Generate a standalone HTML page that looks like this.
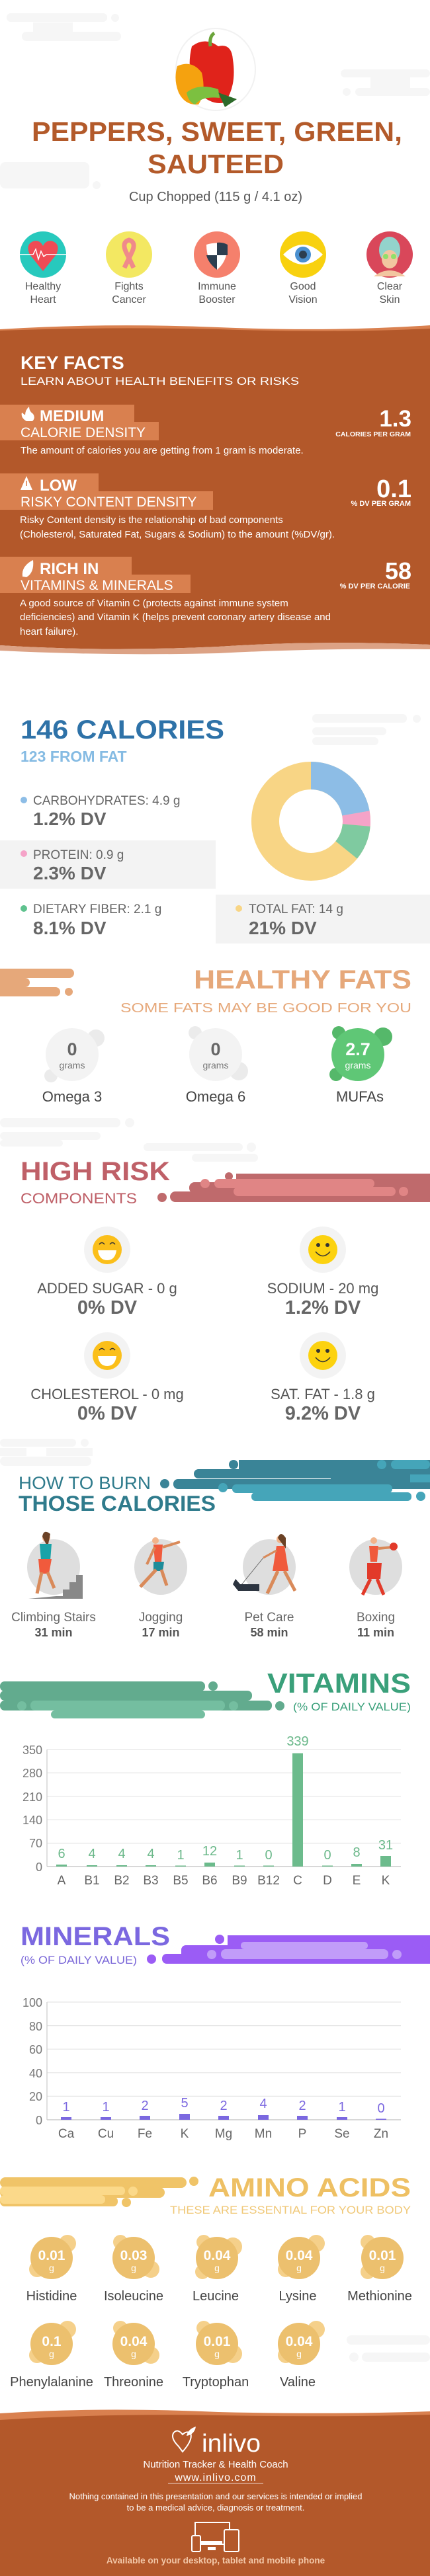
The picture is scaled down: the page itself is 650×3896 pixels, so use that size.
<!DOCTYPE html>
<html><head><meta charset="utf-8"><style>
html,body{margin:0;padding:0;background:#fff;}
svg{display:block;}
text{font-family:"Liberation Sans",sans-serif;}
</style></head><body>
<svg width="650" height="3896" viewBox="0 0 650 3896" xmlns="http://www.w3.org/2000/svg">
<rect width="650" height="3896" fill="#fff"/>
<g fill="#f6f6f6">
<rect x="10" y="20" width="152" height="13" rx="6"/><circle cx="174" cy="27" r="6"/>
<rect x="33" y="48" width="150" height="14" rx="7"/><rect x="50" y="34" width="60" height="16"/>
<rect x="515" y="105" width="135" height="12" rx="6"/><rect x="537" y="133" width="113" height="12" rx="6"/><circle cx="524" cy="139" r="6"/><rect x="560" y="116" width="60" height="18"/>
<rect x="0" y="245" width="135" height="40" rx="8"/><circle cx="146" cy="280" r="6"/>
</g>
<ellipse cx="326" cy="105" rx="60" ry="62" fill="#fff" stroke="#f1f1f1" stroke-width="2"/>
<path d="M290 70 Q310 55 330 70 Q350 65 352 90 Q358 130 340 155 Q320 160 300 140 Q280 110 290 70Z" fill="#e0231b"/>
<path d="M268 100 Q290 90 305 110 Q312 140 300 158 Q280 160 270 140 Q262 120 268 100Z" fill="#f5a20f"/>
<path d="M282 140 Q300 125 330 135 L332 148 Q305 145 295 158 Q285 155 282 140Z" fill="#7cc040"/>
<path d="M330 140 L358 150 L340 162 Z" fill="#2d6a2a"/>
<path d="M318 70 Q316 55 324 50" stroke="#6ba43a" stroke-width="5" fill="none"/>
<text x="328" y="213" font-size="41" font-weight="bold" fill="#b35a2a" text-anchor="middle" textLength="560" lengthAdjust="spacingAndGlyphs">PEPPERS, SWEET, GREEN,</text>
<text x="326" y="262" font-size="41" font-weight="bold" fill="#b35a2a" text-anchor="middle" textLength="206" lengthAdjust="spacingAndGlyphs">SAUTEED</text>
<text x="326" y="304" font-size="20" fill="#555" text-anchor="middle">Cup Chopped (115 g / 4.1 oz)</text>
<circle cx="65" cy="385" r="35" fill="#27c9bd"/><path d="M65 410 L45 385 Q38 370 50 365 Q60 362 65 372 Q70 362 80 365 Q92 370 85 385Z" fill="#ef4b55"/><path d="M30 385 H50 L54 377 L58 392 L62 380 L66 388 L70 385 H100" stroke="#fff" stroke-width="1.5" fill="none"/>
<circle cx="195" cy="385" r="35" fill="#f3e862"/><path d="M188 405 L200 380 Q206 366 195 363 Q184 366 190 380 L202 405" stroke="#f08a8a" stroke-width="7" fill="none"/>
<circle cx="328" cy="385" r="35" fill="#f5806c"/><path d="M312 370 Q328 365 344 370 Q344 395 328 408 Q312 395 312 370Z" fill="#fff"/><path d="M328 367 Q336 366 344 370 L344 386 H328Z M312 386 H328 V408 Q315 398 312 386Z" fill="#2c3e50"/>
<circle cx="458" cy="385" r="35" fill="#f8d10f"/><path d="M428 385 Q458 355 488 385 Q458 415 428 385Z" fill="#fff"/><circle cx="458" cy="385" r="12" fill="#4a90d0"/><circle cx="458" cy="385" r="6" fill="#2c3e50"/>
<circle cx="589" cy="385" r="35" fill="#d9475a"/><ellipse cx="589" cy="378" rx="16" ry="20" fill="#93d3cc"/><ellipse cx="589" cy="392" rx="12" ry="14" fill="#f2c6a0"/><circle cx="583" cy="388" r="4" fill="#8fe06a"/><circle cx="595" cy="388" r="4" fill="#8fe06a"/><path d="M565 418 Q589 400 613 418Z" fill="#f2c6a0"/>
<g font-size="16" fill="#555" text-anchor="middle">
<text x="65" y="438">Healthy</text><text x="65" y="458">Heart</text>
<text x="195" y="438">Fights</text><text x="195" y="458">Cancer</text>
<text x="328" y="438">Immune</text><text x="328" y="458">Booster</text>
<text x="458" y="438">Good</text><text x="458" y="458">Vision</text>
<text x="589" y="438">Clear</text><text x="589" y="458">Skin</text>
</g>
<path d="M0 498 Q160 488 330 495 Q500 502 650 492 V520 H0Z" fill="#d9804f"/>
<path d="M0 500 Q160 494 330 498 Q500 504 650 497 V975 Q480 968 330 978 Q160 986 0 976Z" fill="#b3582a"/>
<path d="M0 976 Q160 986 330 978 Q480 968 650 975 V982 Q480 980 330 988 Q160 992 0 984Z" fill="#dca285"/>
<text x="31" y="558" font-size="28" font-weight="bold" fill="#fff">KEY FACTS</text>
<text x="31" y="582" font-size="17" fill="#fff" textLength="421" lengthAdjust="spacingAndGlyphs">LEARN ABOUT HEALTH BENEFITS OR RISKS</text>
<g fill="#d9804f">
<rect x="0" y="612" width="203" height="27"/><rect x="0" y="638" width="240" height="28"/>
<rect x="0" y="716" width="149" height="28"/><rect x="0" y="743" width="322" height="28"/>
<rect x="0" y="842" width="199" height="28"/><rect x="0" y="869" width="288" height="28"/>
</g>
<path d="M40 637 Q31 632 33 624 Q36 626 38 628 Q38 620 44 615 Q44 622 50 626 Q54 632 49 637Z" fill="#fff"/>
<path d="M40 720 L31 741 H49Z" fill="#fff"/><rect x="39.2" y="727" width="1.6" height="8" fill="#d9804f"/>
<path d="M34 872 Q32 856 50 847 Q52 866 40 873Z" fill="#fff"/>
<g fill="#fff">
<text x="60" y="637" font-size="24" font-weight="bold">MEDIUM</text>
<text x="31" y="661" font-size="21">CALORIE DENSITY</text>
<text x="60" y="742" font-size="24" font-weight="bold">LOW</text>
<text x="31" y="766" font-size="21">RISKY CONTENT DENSITY</text>
<text x="60" y="868" font-size="24" font-weight="bold">RICH  IN</text>
<text x="31" y="892" font-size="21">VITAMINS &amp; MINERALS</text>
<text x="622" y="645" font-size="35" font-weight="bold" text-anchor="end">1.3</text>
<text x="621" y="660" font-size="10.5" font-weight="bold" text-anchor="end">CALORIES PER GRAM</text>
<text x="622" y="752" font-size="38" font-weight="bold" text-anchor="end">0.1</text>
<text x="621" y="765" font-size="11" font-weight="bold" text-anchor="end">% DV PER GRAM</text>
<text x="622" y="876" font-size="36" font-weight="bold" text-anchor="end">58</text>
<text x="620" y="890" font-size="11" font-weight="bold" text-anchor="end">% DV PER CALORIE</text>
<g font-size="15">
<text x="31" y="686">The amount of calories you are getting from 1 gram is moderate.</text>
<text x="30" y="791">Risky Content density is the relationship of bad components</text>
<text x="30" y="813">(Cholesterol, Saturated Fat, Sugars &amp; Sodium) to the amount (%DV/gr).</text>
<text x="30" y="917">A good source of Vitamin C (protects against immune system</text>
<text x="30" y="938">deficiencies) and Vitamin K (helps prevent coronary artery disease and</text>
<text x="30" y="960">heart failure).</text>
</g>
</g>
<g fill="#f6f6f6"><rect x="472" y="1080" width="143" height="13" rx="6"/><circle cx="630" cy="1087" r="6"/><rect x="472" y="1100" width="112" height="12" rx="6"/><rect x="472" y="1115" width="100" height="12" rx="6"/></g>
<text x="31" y="1117" font-size="40" font-weight="bold" fill="#2e72a8" textLength="308" lengthAdjust="spacingAndGlyphs">146 CALORIES</text>
<text x="31" y="1152" font-size="23" font-weight="bold" fill="#85bbe3">123 FROM FAT</text>
<rect x="0" y="1271" width="326" height="73" fill="#f3f3f3"/>
<rect x="326" y="1353" width="324" height="74" fill="#f3f3f3"/>
<g transform="rotate(-90 470 1242)" fill="none" stroke-width="42">
<circle cx="470" cy="1242" r="69" stroke="#f8d585"/>
<circle cx="470" cy="1242" r="69" stroke="#8dbde6" stroke-dasharray="96.3 400"/>
<circle cx="470" cy="1242" r="69" stroke="#f5a3c8" stroke-dasharray="0 96.3 18.1 400"/>
<circle cx="470" cy="1242" r="69" stroke="#7fcaa0" stroke-dasharray="0 114.4 40.9 400"/>
</g>
<circle cx="36" cy="1210" r="5" fill="#8dbde6"/><circle cx="36" cy="1291" r="5" fill="#f5a3c8"/><circle cx="36" cy="1374" r="5" fill="#5fc28e"/><circle cx="361" cy="1374" r="5" fill="#f8d585"/>
<g fill="#666">
<text x="50" y="1217" font-size="19">CARBOHYDRATES: 4.9 g</text>
<text x="50" y="1248" font-size="28" font-weight="bold">1.2% DV</text>
<text x="50" y="1299" font-size="19">PROTEIN: 0.9 g</text>
<text x="50" y="1330" font-size="28" font-weight="bold">2.3% DV</text>
<text x="50" y="1381" font-size="19">DIETARY FIBER: 2.1 g</text>
<text x="50" y="1413" font-size="28" font-weight="bold">8.1% DV</text>
<text x="376" y="1381" font-size="19">TOTAL FAT: 14 g</text>
<text x="376" y="1413" font-size="28" font-weight="bold">21% DV</text>
</g>
<g fill="#e6a87a"><rect x="-10" y="1465" width="122" height="14" rx="7"/><rect x="-10" y="1479" width="55" height="14" rx="7"/><rect x="-10" y="1493" width="101" height="14" rx="7"/><circle cx="104" cy="1500" r="6"/></g>
<text x="622" y="1495" font-size="40" font-weight="bold" fill="#e6a87a" text-anchor="end" textLength="329" lengthAdjust="spacingAndGlyphs">HEALTHY FATS</text>
<text x="622" y="1531" font-size="20" fill="#e6a87a" text-anchor="end" textLength="440" lengthAdjust="spacingAndGlyphs">SOME FATS MAY BE GOOD FOR YOU</text>
<g fill="#ebebeb"><circle cx="145" cy="1570" r="13"/><circle cx="77" cy="1627" r="10"/><circle cx="295" cy="1562" r="10"/><circle cx="361" cy="1620" r="14"/></g>
<circle cx="109" cy="1595" r="40" fill="#f3f3f3"/><circle cx="326" cy="1595" r="40" fill="#f3f3f3"/>
<g fill="#55b86a"><circle cx="512" cy="1562" r="10"/><circle cx="579" cy="1568" r="14"/><circle cx="508" cy="1625" r="10"/></g>
<circle cx="541" cy="1595" r="40" fill="#5fc776"/>
<g text-anchor="middle">
<text x="109" y="1596" font-size="27" font-weight="bold" fill="#666">0</text><text x="109" y="1616" font-size="14" fill="#777">grams</text>
<text x="326" y="1596" font-size="27" font-weight="bold" fill="#666">0</text><text x="326" y="1616" font-size="14" fill="#777">grams</text>
<text x="541" y="1596" font-size="27" font-weight="bold" fill="#fff">2.7</text><text x="541" y="1616" font-size="14" fill="#fff">grams</text>
<text x="109" y="1666" font-size="22" fill="#444">Omega 3</text>
<text x="326" y="1666" font-size="22" fill="#444">Omega 6</text>
<text x="544" y="1666" font-size="22" fill="#444">MUFAs</text>
</g>
<g fill="#f6f6f6"><rect x="0" y="1691" width="182" height="14" rx="7"/><circle cx="196" cy="1698" r="7"/><rect x="0" y="1712" width="152" height="12" rx="6"/><rect x="0" y="1724" width="95" height="10" rx="5"/><rect x="217" y="1729" width="150" height="12" rx="6"/><circle cx="380" cy="1735" r="7"/><rect x="290" y="1745" width="100" height="12" rx="6"/></g>
<g fill="#bf6a6c"><rect x="357" y="1775" width="293" height="43"/><rect x="286" y="1788" width="100" height="17" rx="8"/><rect x="257" y="1802" width="393" height="16" rx="8"/><circle cx="245" cy="1811" r="7"/><circle cx="346" cy="1779" r="6"/></g>
<g fill="#e08585"><rect x="324" y="1783" width="242" height="14" rx="7"/><rect x="353" y="1795" width="245" height="14" rx="7"/><circle cx="610" cy="1802" r="7"/><circle cx="310" cy="1790" r="7"/></g>
<text x="31" y="1785" font-size="40" font-weight="bold" fill="#bf6068" textLength="226" lengthAdjust="spacingAndGlyphs">HIGH RISK</text>
<text x="31" y="1820" font-size="22" fill="#bf6068" textLength="176" lengthAdjust="spacingAndGlyphs">COMPONENTS</text>
<g fill="#f3f3f3"><ellipse cx="162" cy="1890" rx="35" ry="35"/><ellipse cx="488" cy="1890" rx="35" ry="35"/><ellipse cx="162" cy="2050" rx="35" ry="35"/><ellipse cx="488" cy="2050" rx="35" ry="35"/></g>
<g>
<circle cx="162" cy="1890" r="22" fill="#fbbf1a"/><path d="M148 1891 H176 Q174 1906 162 1906 Q150 1906 148 1891Z" fill="#fff"/><path d="M150 1882 Q154 1877 158 1882 M166 1882 Q170 1877 174 1882" stroke="#333" stroke-width="1.5" fill="none"/>
<circle cx="488" cy="1890" r="22" fill="#fcd20f"/><circle cx="481" cy="1883" r="3" fill="#333"/><circle cx="495" cy="1883" r="3" fill="#333"/><path d="M477 1893 Q488 1906 499 1893" stroke="#333" stroke-width="1.5" fill="none"/>
<circle cx="162" cy="2050" r="22" fill="#fbbf1a"/><path d="M148 2051 H176 Q174 2066 162 2066 Q150 2066 148 2051Z" fill="#fff"/><path d="M150 2042 Q154 2037 158 2042 M166 2042 Q170 2037 174 2042" stroke="#333" stroke-width="1.5" fill="none"/>
<circle cx="488" cy="2050" r="22" fill="#fcd20f"/><circle cx="481" cy="2043" r="3" fill="#333"/><circle cx="495" cy="2043" r="3" fill="#333"/><path d="M477 2053 Q488 2066 499 2053" stroke="#333" stroke-width="1.5" fill="none"/>
</g>
<g text-anchor="middle" fill="#555">
<text x="162" y="1956" font-size="22">ADDED SUGAR - 0 g</text><text x="162" y="1987" font-size="29" font-weight="bold" fill="#666">0% DV</text>
<text x="488" y="1956" font-size="22">SODIUM - 20 mg</text><text x="488" y="1987" font-size="29" font-weight="bold" fill="#666">1.2% DV</text>
<text x="162" y="2116" font-size="22">CHOLESTEROL - 0 mg</text><text x="162" y="2147" font-size="29" font-weight="bold" fill="#666">0% DV</text>
<text x="488" y="2116" font-size="22">SAT. FAT - 1.8 g</text><text x="488" y="2147" font-size="29" font-weight="bold" fill="#666">9.2% DV</text>
</g>
<g fill="#f6f6f6"><rect x="0" y="2176" width="115" height="12" rx="6"/><circle cx="128" cy="2182" r="6"/><rect x="0" y="2190" width="40" height="12"/><rect x="70" y="2190" width="70" height="12"/><rect x="0" y="2203" width="138" height="14" rx="7"/></g>
<g fill="#3a8497"><rect x="361" y="2208" width="289" height="22"/><rect x="293" y="2222" width="357" height="14" rx="7"/><rect x="262" y="2237" width="388" height="15" rx="7"/><circle cx="249" cy="2244" r="7"/><circle cx="353" cy="2215" r="7"/><rect x="500" y="2230" width="150" height="22"/></g>
<g fill="#45a5b9"><rect x="351" y="2245" width="242" height="13" rx="6"/><rect x="380" y="2257" width="242" height="13" rx="6"/><circle cx="636" cy="2263" r="7"/><circle cx="337" cy="2250" r="7"/><rect x="591" y="2208" width="59" height="14" rx="7"/><circle cx="577" cy="2215" r="7"/><rect x="620" y="2230" width="30" height="12"/></g>
<text x="28" y="2252" font-size="27" fill="#2f7b8c" textLength="200" lengthAdjust="spacingAndGlyphs">HOW TO BURN</text>
<text x="28" y="2285" font-size="32" font-weight="bold" fill="#2f7b8c" textLength="298" lengthAdjust="spacingAndGlyphs">THOSE CALORIES</text>
<g fill="#dedede"><ellipse cx="81" cy="2370" rx="40" ry="42"/><ellipse cx="243" cy="2370" rx="40" ry="42"/><ellipse cx="407" cy="2370" rx="40" ry="42"/><ellipse cx="568" cy="2370" rx="40" ry="42"/></g>
<path d="M43 2418 H125 V2382 H115 V2393 H105 V2404 H95 V2414 H85 Z" fill="#888"/>
<g>
<circle cx="70" cy="2326" r="6" fill="#f2b38a"/><path d="M64 2324 Q66 2312 76 2320 L72 2340Z" fill="#6b4226"/>
<path d="M60 2335 H78 L76 2360 H62Z" fill="#1aa3a8"/><path d="M58 2358 H78 L74 2380 H60Z" fill="#f05a3c"/><path d="M63 2378 L56 2410 M72 2378 L82 2402" stroke="#d98a5a" stroke-width="5"/>
<circle cx="235" cy="2330" r="5" fill="#f2b38a"/><path d="M232 2336 H246 L244 2362 H234Z" fill="#f05a3c"/><path d="M232 2362 H248 L246 2376 H232Z" fill="#1e8c9a"/><path d="M236 2374 L212 2400 M244 2374 L252 2398" stroke="#d98a5a" stroke-width="5"/><path d="M234 2340 L222 2366 M246 2340 L272 2332" stroke="#d98a5a" stroke-width="4"/>
<circle cx="424" cy="2328" r="6" fill="#f2b38a"/><path d="M420 2326 Q424 2314 432 2326 L432 2342Z" fill="#6b4226"/><path d="M418 2338 H430 L436 2376 H412Z" fill="#f05a3c"/><path d="M420 2376 L404 2410 M430 2376 L446 2406" stroke="#d98a5a" stroke-width="5"/><path d="M418 2345 L398 2356" stroke="#d98a5a" stroke-width="3"/><path d="M398 2356 L364 2398" stroke="#555" stroke-width="0.8"/><path d="M352 2396 H392 V2406 H360Z M352 2396 L356 2388 L364 2397" fill="#2c3440"/>
<circle cx="565" cy="2330" r="5" fill="#f2b38a"/><path d="M558 2338 H572 L570 2362 H560Z" fill="#f05a3c"/><path d="M555 2364 H577 L575 2388 H555Z" fill="#e23a2a"/><path d="M560 2388 L548 2412 M570 2388 L580 2412" stroke="#e23a2a" stroke-width="5"/><path d="M572 2342 L592 2340" stroke="#d98a5a" stroke-width="4"/><circle cx="595" cy="2339" r="6" fill="#e23a2a"/>
</g>
<g text-anchor="middle">
<text x="81" y="2452" font-size="19" fill="#666">Climbing Stairs</text><text x="81" y="2475" font-size="18" font-weight="bold" fill="#555">31 min</text>
<text x="243" y="2452" font-size="19" fill="#666">Jogging</text><text x="243" y="2475" font-size="18" font-weight="bold" fill="#555">17 min</text>
<text x="407" y="2452" font-size="19" fill="#666">Pet Care</text><text x="407" y="2475" font-size="18" font-weight="bold" fill="#555">58 min</text>
<text x="568" y="2452" font-size="19" fill="#666">Boxing</text><text x="568" y="2475" font-size="18" font-weight="bold" fill="#555">11 min</text>
</g>
<g fill="#62ab8e"><rect x="0" y="2543" width="310" height="15" rx="7"/><rect x="0" y="2557" width="381" height="15" rx="7"/><rect x="0" y="2572" width="411" height="15" rx="7"/><circle cx="322" cy="2550" r="7"/><circle cx="423" cy="2580" r="7"/></g>
<g fill="#74bea0"><rect x="46" y="2572" width="294" height="15" rx="7"/><rect x="77" y="2587" width="233" height="12" rx="6"/><circle cx="33" cy="2580" r="7"/><circle cx="353" cy="2580" r="7"/></g>
<text x="621" y="2560" font-size="42" font-weight="bold" fill="#3aa07a" text-anchor="end" textLength="217" lengthAdjust="spacingAndGlyphs">VITAMINS</text>
<text x="621" y="2587" font-size="17" fill="#3aa07a" text-anchor="end" textLength="178" lengthAdjust="spacingAndGlyphs">(% OF DAILY VALUE)</text>
<g stroke="#e5e5e5" stroke-width="1.2"><line x1="71" y1="2646" x2="606" y2="2646"/><line x1="71" y1="2681.4" x2="606" y2="2681.4"/><line x1="71" y1="2716.8" x2="606" y2="2716.8"/><line x1="71" y1="2752.2" x2="606" y2="2752.2"/><line x1="71" y1="2787.6" x2="606" y2="2787.6"/></g>
<line x1="71" y1="2823" x2="606" y2="2823" stroke="#ccc" stroke-width="1.5"/><line x1="71" y1="2646" x2="71" y2="2823" stroke="#ccc" stroke-width="1.2"/>
<g font-size="18" fill="#777" text-anchor="end"><text x="64" y="2653">350</text><text x="64" y="2688">280</text><text x="64" y="2724">210</text><text x="64" y="2759">140</text><text x="64" y="2794">70</text><text x="64" y="2830">0</text></g>
<g fill="#6cbb8c">
<rect x="85" y="2820" width="16" height="3"/><rect x="131" y="2821" width="16" height="2"/><rect x="176" y="2821" width="16" height="2"/><rect x="220" y="2821" width="16" height="2"/><rect x="265" y="2821.5" width="16" height="1.5"/><rect x="309" y="2817" width="16" height="6"/><rect x="354" y="2821.5" width="16" height="1.5"/><rect x="398" y="2821.5" width="16" height="1.5"/><rect x="442" y="2651.6" width="16" height="171.4"/><rect x="487" y="2821.5" width="16" height="1.5"/><rect x="531" y="2819" width="16" height="4"/><rect x="575" y="2807" width="16" height="16"/>
</g>
<g font-size="20" fill="#6bb88a" text-anchor="middle">
<text x="93" y="2810">6</text><text x="139" y="2810">4</text><text x="184" y="2810">4</text><text x="228" y="2810">4</text><text x="273" y="2812">1</text><text x="317" y="2806">12</text><text x="362" y="2812">1</text><text x="406" y="2812">0</text><text x="450" y="2640">339</text><text x="495" y="2812">0</text><text x="539" y="2808">8</text><text x="583" y="2797">31</text>
</g>
<g font-size="19" fill="#666" text-anchor="middle">
<text x="93" y="2850">A</text><text x="139" y="2850">B1</text><text x="184" y="2850">B2</text><text x="228" y="2850">B3</text><text x="273" y="2850">B5</text><text x="317" y="2850">B6</text><text x="362" y="2850">B9</text><text x="406" y="2850">B12</text><text x="450" y="2850">C</text><text x="495" y="2850">D</text><text x="539" y="2850">E</text><text x="583" y="2850">K</text>
</g>
<g fill="#9b5cf5"><rect x="344" y="2927" width="306" height="43"/><rect x="274" y="2942" width="376" height="28" rx="7"/><rect x="245" y="2955" width="405" height="15" rx="7"/><circle cx="229" cy="2963" r="7"/><circle cx="332" cy="2933" r="7"/></g>
<g fill="#c19cf9"><rect x="364" y="2937" width="192" height="11" rx="5"/><rect x="334" y="2948" width="253" height="15" rx="7"/><circle cx="320" cy="2956" r="7"/><circle cx="600" cy="2956" r="7"/></g>
<text x="31" y="2942" font-size="40" font-weight="bold" fill="#7b68e0" textLength="226" lengthAdjust="spacingAndGlyphs">MINERALS</text>
<text x="31" y="2970" font-size="17" fill="#7b68d8" textLength="176" lengthAdjust="spacingAndGlyphs">(% OF DAILY VALUE)</text>
<g stroke="#e5e5e5" stroke-width="1.2"><line x1="71" y1="3028" x2="606" y2="3028"/><line x1="71" y1="3063.6" x2="606" y2="3063.6"/><line x1="71" y1="3099.2" x2="606" y2="3099.2"/><line x1="71" y1="3134.8" x2="606" y2="3134.8"/><line x1="71" y1="3170.4" x2="606" y2="3170.4"/></g>
<line x1="71" y1="3206" x2="606" y2="3206" stroke="#ccc" stroke-width="1.5"/><line x1="71" y1="3028" x2="71" y2="3206" stroke="#ccc" stroke-width="1.2"/>
<g font-size="18" fill="#777" text-anchor="end"><text x="64" y="3035">100</text><text x="64" y="3071">80</text><text x="64" y="3106">60</text><text x="64" y="3142">40</text><text x="64" y="3177">20</text><text x="64" y="3213">0</text></g>
<g fill="#7b68e0">
<rect x="92" y="3202" width="16" height="4"/><rect x="152" y="3202" width="16" height="4"/><rect x="211" y="3200" width="16" height="6"/><rect x="271" y="3197" width="16" height="9"/><rect x="330" y="3200" width="16" height="6"/><rect x="390" y="3199" width="16" height="7"/><rect x="449" y="3200" width="16" height="6"/><rect x="509" y="3202" width="16" height="4"/><rect x="568" y="3204.5" width="16" height="1.5"/>
</g>
<g font-size="20" fill="#7b68e0" text-anchor="middle">
<text x="100" y="3193">1</text><text x="160" y="3193">1</text><text x="219" y="3191">2</text><text x="279" y="3187">5</text><text x="338" y="3191">2</text><text x="398" y="3188">4</text><text x="457" y="3191">2</text><text x="517" y="3193">1</text><text x="576" y="3195">0</text>
</g>
<g font-size="19" fill="#666" text-anchor="middle">
<text x="100" y="3233">Ca</text><text x="160" y="3233">Cu</text><text x="219" y="3233">Fe</text><text x="279" y="3233">K</text><text x="338" y="3233">Mg</text><text x="398" y="3233">Mn</text><text x="457" y="3233">P</text><text x="517" y="3233">Se</text><text x="576" y="3233">Zn</text>
</g>
<g fill="#f0c468"><rect x="0" y="3293" width="282" height="16" rx="8"/><rect x="0" y="3308" width="249" height="16" rx="8"/><rect x="0" y="3322" width="178" height="15" rx="7"/><circle cx="293" cy="3299" r="7"/><circle cx="191" cy="3331" r="7"/></g>
<g fill="#fbd98a"><rect x="0" y="3307" width="189" height="13" rx="6"/><rect x="0" y="3320" width="159" height="13" rx="6"/><circle cx="201" cy="3314" r="7"/></g>
<text x="621" y="3322" font-size="40" font-weight="bold" fill="#eec064" text-anchor="end" textLength="306" lengthAdjust="spacingAndGlyphs">AMINO ACIDS</text>
<text x="621" y="3348" font-size="17" fill="#f0c878" text-anchor="end" textLength="364" lengthAdjust="spacingAndGlyphs">THESE ARE ESSENTIAL FOR YOUR BODY</text>
<g fill="#f6f6f6"><rect x="524" y="3532" width="126" height="14" rx="7"/><rect x="547" y="3558" width="103" height="14" rx="7"/><circle cx="535" cy="3565" r="7"/></g>
<g fill="#f5d08a">
<circle cx="102" cy="3393" r="13"/><circle cx="56" cy="3432" r="12"/><circle cx="182" cy="3391" r="11"/><circle cx="228" cy="3432" r="13"/><circle cx="308" cy="3391" r="11"/><circle cx="352" cy="3398" r="14"/><circle cx="306" cy="3436" r="11"/><circle cx="478" cy="3393" r="13"/><circle cx="432" cy="3432" r="12"/><circle cx="556" cy="3391" r="11"/><circle cx="556" cy="3436" r="11"/>
<circle cx="102" cy="3523" r="13"/><circle cx="56" cy="3562" r="12"/><circle cx="182" cy="3521" r="11"/><circle cx="228" cy="3562" r="13"/><circle cx="308" cy="3521" r="11"/><circle cx="352" cy="3560" r="14"/><circle cx="478" cy="3523" r="13"/><circle cx="432" cy="3562" r="12"/>
</g>
<g fill="#ecc06e">
<circle cx="78" cy="3415" r="32"/><circle cx="202" cy="3415" r="32"/><circle cx="328" cy="3415" r="32"/><circle cx="452" cy="3415" r="32"/><circle cx="578" cy="3415" r="32"/>
<circle cx="78" cy="3545" r="32"/><circle cx="202" cy="3545" r="32"/><circle cx="328" cy="3545" r="32"/><circle cx="452" cy="3545" r="32"/>
</g>
<g text-anchor="middle" fill="#fff">
<g font-size="21" font-weight="bold"><text x="78" y="3418">0.01</text><text x="202" y="3418">0.03</text><text x="328" y="3418">0.04</text><text x="452" y="3418">0.04</text><text x="578" y="3418">0.01</text><text x="78" y="3548">0.1</text><text x="202" y="3548">0.04</text><text x="328" y="3548">0.01</text><text x="452" y="3548">0.04</text></g>
<g font-size="14"><text x="78" y="3435">g</text><text x="202" y="3435">g</text><text x="328" y="3435">g</text><text x="452" y="3435">g</text><text x="578" y="3435">g</text><text x="78" y="3565">g</text><text x="202" y="3565">g</text><text x="328" y="3565">g</text><text x="452" y="3565">g</text></g>
</g>
<g text-anchor="middle" font-size="20" fill="#444">
<text x="78" y="3479">Histidine</text><text x="202" y="3479">Isoleucine</text><text x="326" y="3479">Leucine</text><text x="450" y="3479">Lysine</text><text x="574" y="3479">Methionine</text>
<text x="78" y="3609">Phenylalanine</text><text x="202" y="3609">Threonine</text><text x="326" y="3609">Tryptophan</text><text x="450" y="3609">Valine</text>
</g>
<path d="M0 3650 Q150 3640 330 3648 Q500 3652 650 3647 V3670 H0Z" fill="#d9804f"/>
<path d="M0 3660 Q160 3650 330 3653 Q500 3656 650 3652 V3896 H0Z" fill="#b3582a"/>
<path d="M270 3700 Q258 3688 262 3680 Q268 3672 276 3682 Q282 3676 288 3680 Q292 3690 276 3708Z" fill="none" stroke="#fff" stroke-width="2"/>
<path d="M282 3684 Q284 3674 296 3670 Q294 3682 282 3684Z" fill="#fff"/>
<text x="305" y="3708" font-size="38" fill="#fff" textLength="89" lengthAdjust="spacingAndGlyphs">inlivo</text>
<g text-anchor="middle" fill="#fff">
<text x="326" y="3732" font-size="15">Nutrition Tracker &amp; Health Coach</text>
<text x="326" y="3752" font-size="16" letter-spacing="1">www.inlivo.com</text>
<line x1="254" y1="3756" x2="398" y2="3756" stroke="#fff" stroke-width="0.8"/>
<text x="326" y="3780" font-size="13">Nothing contained in this presentation and our services is intended or implied</text>
<text x="326" y="3797" font-size="13">to be a medical advice, diagnosis or treatment.</text>
<text x="326" y="3877" font-size="13.5" font-weight="bold" fill="#f2c7a8">Available on your desktop, tablet and mobile phone</text>
</g>
<g fill="none" stroke="#fff" stroke-width="2"><rect x="295" y="3815" width="52" height="33"/><rect x="290" y="3835" width="13" height="24" rx="2" fill="#b3582a"/><rect x="339" y="3826" width="22" height="33" rx="2" fill="#b3582a"/></g>
<rect x="304" y="3843" width="32" height="6" fill="#fff"/><rect x="314" y="3852" width="12" height="5" fill="#fff"/>
</svg>
</body></html>
